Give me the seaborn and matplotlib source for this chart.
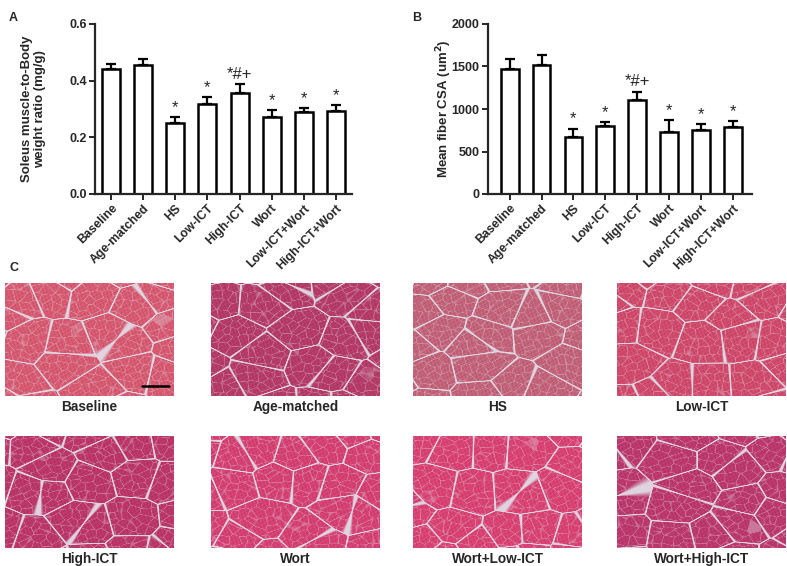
import numpy as np
import matplotlib
matplotlib.use("Agg")
import matplotlib.pyplot as plt
import seaborn as sns
import pandas as pd

# ---- data ----
groups = ["Baseline", "Age-matched", "HS", "Low-ICT", "High-ICT",
          "Wort", "Low-ICT+Wort", "High-ICT+Wort"]
ratio_mean = [0.440, 0.455, 0.252, 0.316, 0.357, 0.273, 0.288, 0.293]
ratio_sem = [0.018, 0.022, 0.018, 0.026, 0.032, 0.022, 0.016, 0.020]
csa_mean = [1470, 1515, 665, 795, 1105, 735, 755, 785]
csa_sem = [120, 125, 105, 55, 100, 130, 70, 75]
sig_marks = ["", "", "*", "*", "*#+", "*", "*", "*"]

image_labels = ["Baseline", "Age-matched", "HS", "Low-ICT",
                "High-ICT", "Wort", "Wort+Low-ICT", "Wort+High-ICT"]
image_colors = ["#e6617a", "#c2406f", "#d06a82", "#df5074",
                "#c93b70", "#e4467b", "#e8487c", "#c93d74"]

W, H = 787, 566
sns.set_style("ticks")
plt.rcParams["font.family"] = ["Liberation Sans", "DejaVu Sans"]
plt.rcParams["font.weight"] = "bold"

fig = plt.figure(figsize=(W / 100, H / 100), dpi=100)


def px_axes(x0, y0, x1, y1):
    return fig.add_axes([x0 / W, 1 - y1 / H, (x1 - x0) / W, (y1 - y0) / H])


def bar_panel(ax, means, sems, ylim, yticks, ylabel, xlim, fmt):
    df = pd.DataFrame({"group": groups, "value": means})
    sns.barplot(data=df, x="group", y="value", ax=ax, color="white",
                edgecolor="black", linewidth=1.8, width=0.56, errorbar=None)
    x = np.arange(len(groups))
    ax.errorbar(x, means, yerr=[np.zeros(len(sems)), sems], fmt="none",
                ecolor="black", elinewidth=1.6, capsize=3.5, capthick=1.6)
    for xi, m, s, mark in zip(x, means, sems, sig_marks):
        if mark:
            ax.annotate(mark, (xi, m + s), xytext=(0, 1.5), textcoords="offset points",
                        ha="center", va="bottom", fontsize=12, fontweight="normal")
    ax.set_ylim(*ylim)
    ax.set_xlim(*xlim)
    ax.set_yticks(yticks)
    ax.set_yticklabels([fmt.format(v) for v in yticks], fontsize=9, fontweight="bold")
    ax.set_xticks(x)
    ax.set_xticklabels(groups, rotation=45, ha="right", rotation_mode="anchor",
                       fontsize=8.8, fontweight="bold")
    ax.set_xlabel("")
    ax.set_ylabel(ylabel, fontsize=9.5, fontweight="bold", linespacing=1.1)
    for sp in ["left", "bottom"]:
        ax.spines[sp].set_linewidth(1.6)
    sns.despine(ax=ax)
    ax.tick_params(width=1.4, length=4, pad=2)


axA = px_axes(95, 24, 352, 194)
bar_panel(axA, ratio_mean, ratio_sem, (0, 0.6), [0.0, 0.2, 0.4, 0.6],
          "Soleus muscle-to-Body\nweight ratio (mg/g)", (-0.5, 7.5), "{:.1f}")
axA.yaxis.set_label_coords(-0.19, 0.5)

axB = px_axes(488, 24, 752, 194)
bar_panel(axB, csa_mean, csa_sem, (0, 2000), [0, 500, 1000, 1500, 2000],
          "Mean fiber CSA (um$^\\mathbf{2}$)", (-0.68, 7.6), "{:.0f}")
axB.yaxis.set_label_coords(-0.13, 0.5)


# ---- histology panels: a cell-like texture over each stain colour ----
def cell_gap(h, w, cell, k, stretch=1.0):
    gy, gx = np.mgrid[-1:int(h / cell) + 2, -1:int(w / cell) + 2]
    jx = np.sin(gx * 12.9898 + gy * 78.233 + k * 3.1) * 43758.5453
    jy = np.sin(gx * 39.346 + gy * 11.135 + k * 1.7) * 24634.6345
    sx = ((gx + (jx - np.floor(jx))) * cell).ravel()
    sy = ((gy + (jy - np.floor(jy))) * cell).ravel()
    yy, xx = np.mgrid[0:h, 0:w]
    d = np.sqrt(((xx[..., None] - sx) / stretch) ** 2 + (yy[..., None] - sy) ** 2)
    d2 = np.partition(d, 1, axis=-1)
    return d2[..., 1] - d2[..., 0]


def tissue(h, w, color, k=0):
    yy, xx = np.mgrid[0:h, 0:w]
    base = np.array(matplotlib.colors.to_rgb(color))
    shade = 0.93 + 0.07 * np.sin(xx * 1.3 + yy * 0.5 + k) * np.sin(yy * 1.1 - xx * 0.4)
    img = base * shade[..., None]
    fine = np.clip(1.0 - cell_gap(h, w, 9.0, k, 1.3), 0, 1) * 0.4
    coarse = np.clip(1.6 - cell_gap(h, w, 36.0, k + 11, 1.4), 0, 1) * 0.95
    border = np.maximum(fine, coarse)[..., None]
    light = np.array([0.88, 0.86, 0.90])
    return np.clip(img * (1 - border) + light * border, 0, 1)


cols = [(5, 174), (211, 380), (413, 582), (617, 786)]
rows = [(283, 396), (436, 548)]
for i, (lab, col) in enumerate(zip(image_labels, image_colors)):
    (x0, x1), (y0, y1) = cols[i % 4], rows[i // 4]
    ax = px_axes(x0, y0, x1, y1)
    ax.imshow(tissue(y1 - y0, x1 - x0, col, k=i), aspect="auto", interpolation="bilinear")
    ax.set_axis_off()
    fig.text((x0 + x1) / 2 / W, 1 - (y1 + 4) / H, lab, ha="center", va="top",
             fontsize=9.8, fontweight="bold")
    if i == 0:
        ax.plot([136, 163], [102, 102], color="black", lw=1.8)

for letter, (x, y) in zip("ABC", [(9, 12), (412, 12), (9, 262)]):
    fig.text(x / W, 1 - y / H, letter, ha="left", va="top", fontsize=9, fontweight="bold")

fig.savefig("out.png", dpi=100)
